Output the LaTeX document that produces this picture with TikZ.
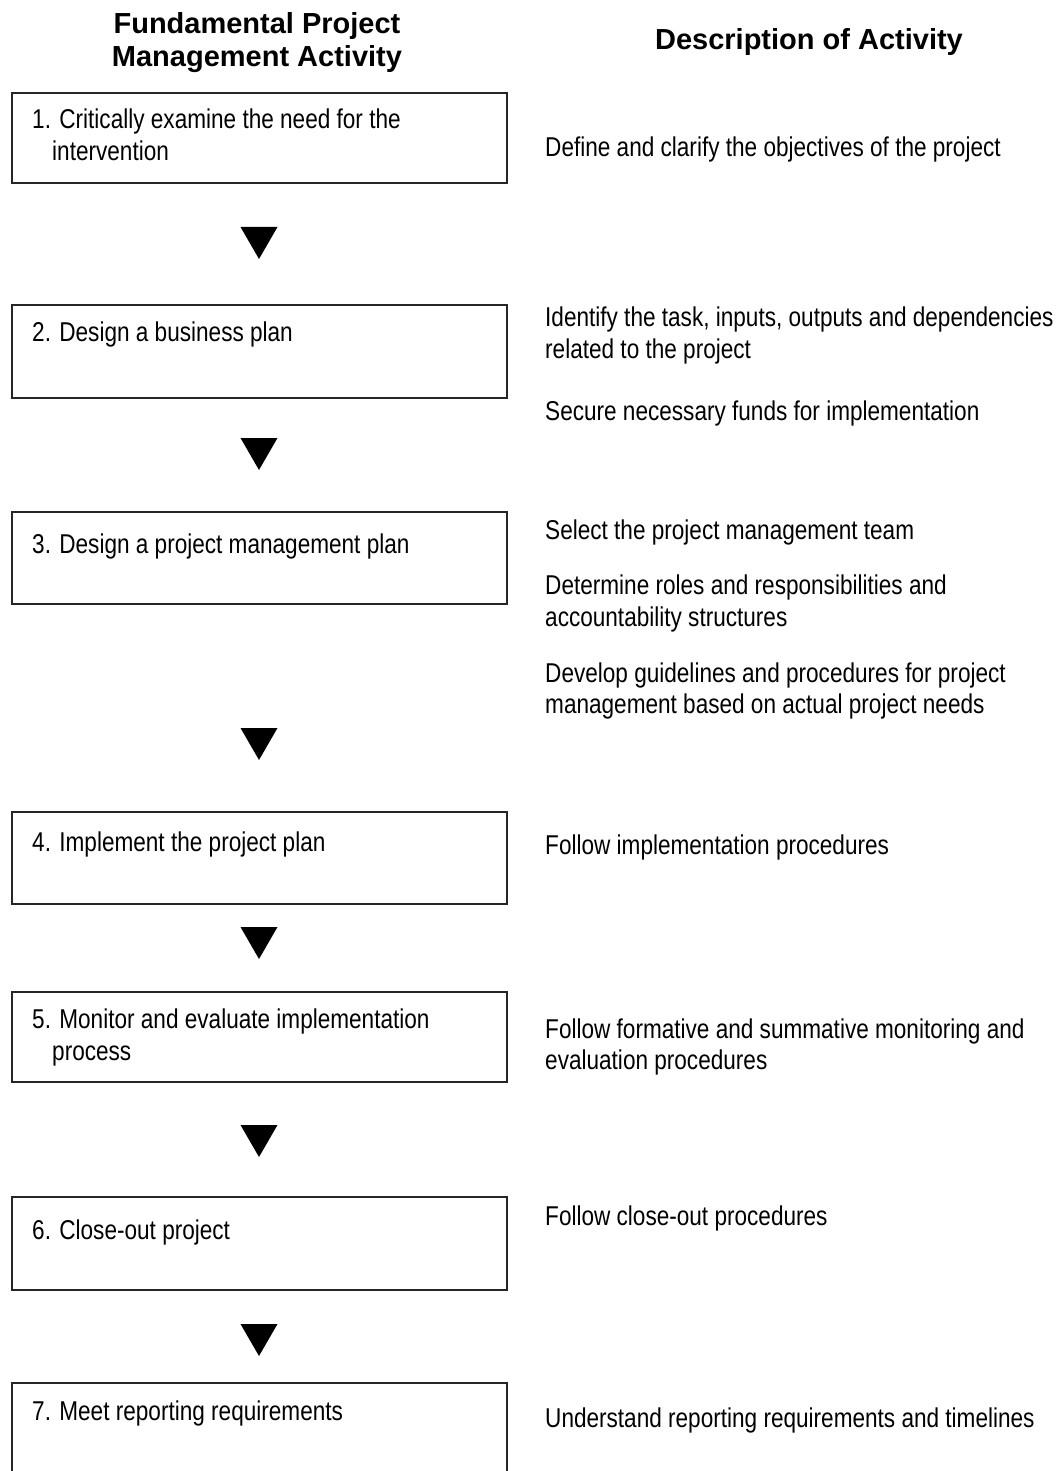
\documentclass[tikz,border=0pt]{standalone}
\usepackage{fontspec}
\usetikzlibrary{calc}
\setmainfont{Liberation Sans}
\newfontfamily\narrowfont{Liberation Sans}[FakeStretch=0.83]
\begin{document}
\begin{tikzpicture}[x=1pt,y=-1pt,
  heading/.style={font=\bfseries\fontsize{29}{33}\selectfont, align=center, inner sep=0pt, anchor=base},
  body/.style={font=\narrowfont\fontsize{27.2}{32}\selectfont, align=left, inner sep=0pt, anchor=base west},
  stepbox/.style={draw=black!85, line width=1.7pt, inner sep=0pt, minimum width=495pt, minimum height=#1},
  flowmark/.style={fill=black}
]
\useasboundingbox (0,0) rectangle (1059,1471);
\clip (0,0) rectangle (1059,1471);

% column headings
\node[heading] (h1) at (257,34) {Fundamental Project};
\node[heading] (h1b) at (257,67) {Management Activity};
\node[heading] (h2) at (809,50) {Description of Activity};

% activity boxes
\node[stepbox=90pt]  (b1) at (259.5,138) {};
\node[stepbox=93pt]  (b2) at (259.5,351.5) {};
\node[stepbox=92pt]  (b3) at (259.5,558) {};
\node[stepbox=92pt]  (b4) at (259.5,858) {};
\node[stepbox=90pt]  (b5) at (259.5,1037) {};
\node[stepbox=93pt]  (b6) at (259.5,1243.5) {};
\node[stepbox=120pt] (b7) at (259.5,1443) {};

% box labels
\node[body] (l1) at (32,129) {1. Critically examine the need for the};
\node[body] (l1b) at (52,161) {intervention};
\node[body] (l2) at (32,341) {2. Design a business plan};
\node[body] (l3) at (32,553) {3. Design a project management plan};
\node[body] (l4) at (32,851) {4. Implement the project plan};
\node[body] (l5) at (32,1028) {5. Monitor and evaluate implementation};
\node[body] (l5b) at (52,1060) {process};
\node[body] (l6) at (32,1239) {6. Close-out project};
\node[body] (l7) at (32,1420) {7. Meet reporting requirements};

% descriptions
\node[body] (d1) at (545,157) {Define and clarify the objectives of the project};
\node[body] (d2) at (545,326) {Identify the task, inputs, outputs and dependencies};
\node[body] (d2b) at (545,358) {related to the project};
\node[body] (d3) at (545,420) {Secure necessary funds for implementation};
\node[body] (d4) at (545,539) {Select the project management team};
\node[body] (d5) at (545,594) {Determine roles and responsibilities and};
\node[body] (d5b) at (545,626) {accountability structures};
\node[body] (d6) at (545,682) {Develop guidelines and procedures for project};
\node[body] (d6b) at (545,713) {management based on actual project needs};
\node[body] (d7) at (545,854) {Follow implementation procedures};
\node[body] (d8) at (545,1038) {Follow formative and summative monitoring and};
\node[body] (d8b) at (545,1069) {evaluation procedures};
\node[body] (d9) at (545,1225) {Follow close-out procedures};
\node[body] (d10) at (545,1427) {Understand reporting requirements and timelines};

% flow markers between the boxes
\foreach \name/\ty in {t1/227, t2/438, t3/728, t4/927, t5/1125, t6/1324} {
  \coordinate (\name) at (259,\ty);
  \fill[flowmark] ($(\name)+(-18.5,0)$) -- ++(37,0) -- ++(-18.5,32) -- cycle;
}
\end{tikzpicture}
\end{document}
